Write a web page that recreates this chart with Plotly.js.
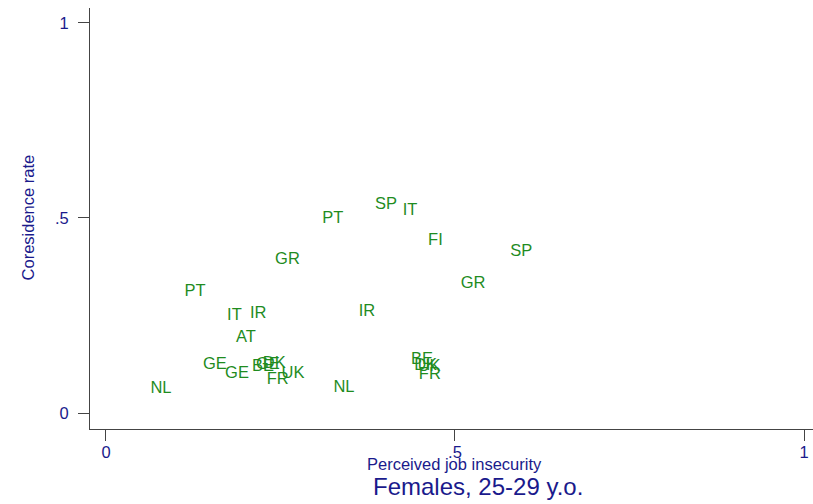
<!DOCTYPE html>
<html>
<head>
<meta charset="utf-8">
<script src="https://cdn.plot.ly/plotly-3.0.1.min.js"></script>
<style>html,body{margin:0;padding:0;background:#fff;}#chart{width:813px;height:504px;}</style>
</head>
<body>
<div id="chart"></div>
<script>
// Country labels (marker labels), perceived job insecurity (x), coresidence rate (y)
const countries = ["SP","IT","PT","FI","SP","GR","GR","PT","IT","IR","IR","AT",
                   "GE","GE","BE","GE","DK","FR","UK","NL","NL","BE","DK","UK","FR"];
const insecurity = [0.401,0.4355,0.325,0.472,0.595,0.260,0.526,0.1275,0.184,0.218,0.374,0.2006,
                    0.156,0.1877,0.225,0.232,0.241,0.246,0.268,0.0788,0.341,0.4527,0.458,0.463,0.464];
const coresidence = [0.534,0.519,0.498,0.440,0.414,0.393,0.331,0.311,0.250,0.255,0.258,0.193,
                     0.124,0.101,0.119,0.124,0.127,0.086,0.101,0.063,0.065,0.137,0.122,0.117,0.099];
const tickVals = [0, 0.5, 1];
const tickText = ["0", ".5", "1"];
const xTitle = "Perceived job insecurity";
const yTitle = "Coresidence rate";
const chartTitle = "Females, 25-29 y.o.";

const FONT = "Liberation Sans, Arial, Helvetica, sans-serif";
const NAVY = "#1a1a8c";
const GREEN = "#1f8c1f";

const trace = {
  type: "scatter",
  mode: "text",
  x: insecurity,
  y: coresidence,
  text: countries,
  textposition: "middle center",
  textfont: {family: FONT, size: 16.5, color: GREEN},
  hoverinfo: "none",
  showlegend: false
};

const axisCommon = {
  showgrid: false,
  zeroline: false,
  showline: true,
  linecolor: "#444",
  linewidth: 1,
  ticks: "outside",
  ticklen: 11,
  tickwidth: 1,
  tickcolor: "#444",
  tickvals: tickVals,
  ticktext: tickText,
  tickfont: {family: FONT, size: 16.5, color: NAVY},
  fixedrange: true
};

const layout = {
  width: 813,
  height: 504,
  margin: {l: 90, r: 0, t: 8, b: 75, pad: 0},
  paper_bgcolor: "#ffffff",
  plot_bgcolor: "#ffffff",
  font: {family: FONT, color: NAVY},
  xaxis: Object.assign({}, axisCommon, {range: [-0.0229, 1.0129], ticklabelstandoff: -3}),
  yaxis: Object.assign({}, axisCommon, {range: [-0.041, 1.038], ticklabelstandoff: 6}),
  annotations: [
    {text: xTitle, xref: "x", yref: "paper", x: 0.5, y: -0.0831, xanchor: "center", yanchor: "middle",
     showarrow: false, font: {family: FONT, size: 16.5, color: NAVY}},
    {text: yTitle, xref: "paper", yref: "y", x: -0.0864, y: 0.5, xanchor: "center", yanchor: "middle",
     textangle: -90, showarrow: false, font: {family: FONT, size: 16.5, color: NAVY}},
    {text: chartTitle, xref: "paper", yref: "paper", x: 0.536, y: -0.1354, xanchor: "center", yanchor: "middle",
     showarrow: false, font: {family: FONT, size: 24, color: NAVY}}
  ]
};

Plotly.newPlot("chart", [trace], layout, {displayModeBar: false, staticPlot: true});
</script>
</body>
</html>
